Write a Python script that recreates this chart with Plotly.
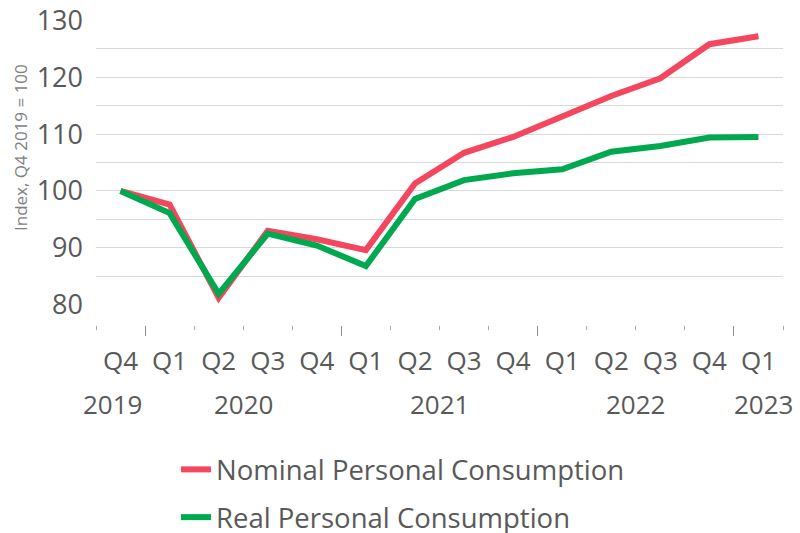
import plotly.graph_objects as go

quarters = ["Q4", "Q1", "Q2", "Q3", "Q4", "Q1", "Q2", "Q3", "Q4", "Q1", "Q2", "Q3", "Q4", "Q1"]
years = ["2019", "2020", "2020", "2020", "2020", "2021", "2021", "2021", "2021",
         "2022", "2022", "2022", "2022", "2023"]
nominal = [100, 97.6, 81.2, 93.0, 91.5, 89.6, 101.3, 106.7, 109.5, 113.0, 116.7, 119.8, 125.8, 127.2]
real = [100, 96.1, 81.9, 92.5, 90.4, 86.8, 98.6, 101.9, 103.1, 103.8, 106.9, 107.9, 109.4, 109.5]

x = list(range(len(quarters)))
FONT = "Open Sans"
TXT = "#595959"
GRID = "#D9D9D9"

fig = go.Figure()
fig.add_trace(go.Scatter(x=x, y=nominal, mode="lines", name="Nominal Personal Consumption",
                         line=dict(color="#F4475F", width=6), legendgroup="a"))
fig.add_trace(go.Scatter(x=x, y=real, mode="lines", name="Real Personal Consumption",
                         line=dict(color="#00A84F", width=6), legendgroup="b"))
# invisible trace to carry the quarter labels axis
fig.add_trace(go.Scatter(x=x, y=real, mode="lines", xaxis="x2", showlegend=False,
                         line=dict(width=0), hoverinfo="skip", opacity=0))

# tick positions between categories
boundaries = [i + 0.5 for i in range(-1, len(quarters))]
year_breaks = [i + 0.5 for i in range(len(quarters) - 1) if years[i] != years[i + 1]]

xr = [-0.5, len(quarters) - 0.5]
fig.update_layout(
    width=800, height=533,
    margin=dict(l=96, r=17, t=20, b=0, autoexpand=False),
    paper_bgcolor="white", plot_bgcolor="white",
    font=dict(family=FONT, color=TXT, size=26),
    showlegend=True,
    legend=dict(x=(176 - 96) / 687, y=(533 - 445) / 513,
                xanchor="left", yanchor="top", font=dict(size=27.5, color=TXT),
                tracegroupgap=9, itemwidth=30, bgcolor="rgba(0,0,0,0)"),
    yaxis=dict(domain=[(533 - 305) / 513, 1], range=[79.95, 130.05], tickvals=[80, 90, 100, 110, 120, 130],
               showgrid=True, gridcolor=GRID, gridwidth=1, zeroline=False, showline=False,
               tickfont=dict(size=27, color=TXT), ticklabelstandoff=12, automargin=False,
               minor=dict(dtick=5, tick0=80, showgrid=True, gridcolor=GRID, gridwidth=1)),
    xaxis=dict(range=xr, domain=[0, 1], anchor="free", position=(533 - 325) / 513, showgrid=False,
               zeroline=False, automargin=False,
               showline=False, tickmode="array", tickvals=year_breaks, ticks="outside", ticklen=10,
               tickcolor="#8C8C8C", tickwidth=1, showticklabels=False,
               minor=dict(tickmode="array", tickvals=boundaries, ticks="outside", ticklen=4,
                          tickcolor="#A6A6A6", tickwidth=1)),
    xaxis2=dict(range=xr, domain=[0, 1], overlaying="x", anchor="free", position=(533 - 343) / 513,
                showgrid=False, automargin=False,
                zeroline=False, showline=False, tickmode="array", tickvals=x, ticktext=quarters,
                ticks="", tickfont=dict(size=26, color=TXT)),
)

# year labels centered on their groups
groups = {}
for i, yv in enumerate(years):
    groups.setdefault(yv, []).append(i)
for yv, idx in groups.items():
    cx = sum(idx) / len(idx)
    shift = 0
    if len(idx) == 1 and idx[0] == 0:
        shift = -8
    if len(idx) == 1 and idx[0] == len(years) - 1:
        shift = 5
    fig.add_annotation(x=cx, xref="x", y=(533 - 404) / 513, yref="paper", text=yv, showarrow=False,
                       xshift=shift, font=dict(size=26, color=TXT), yanchor="middle")

fig.add_annotation(x=(20 - 96) / 687, xref="paper", y=(533 - 148) / 513, yref="paper",
                   text="Index, Q4 2019 = 100", textangle=-90, showarrow=False,
                   font=dict(size=17, color="#7F7F7F"), xanchor="center", yanchor="middle")

fig.write_html("out.html", config={"displayModeBar": False},
               post_script="document.body.style.margin='0';")
